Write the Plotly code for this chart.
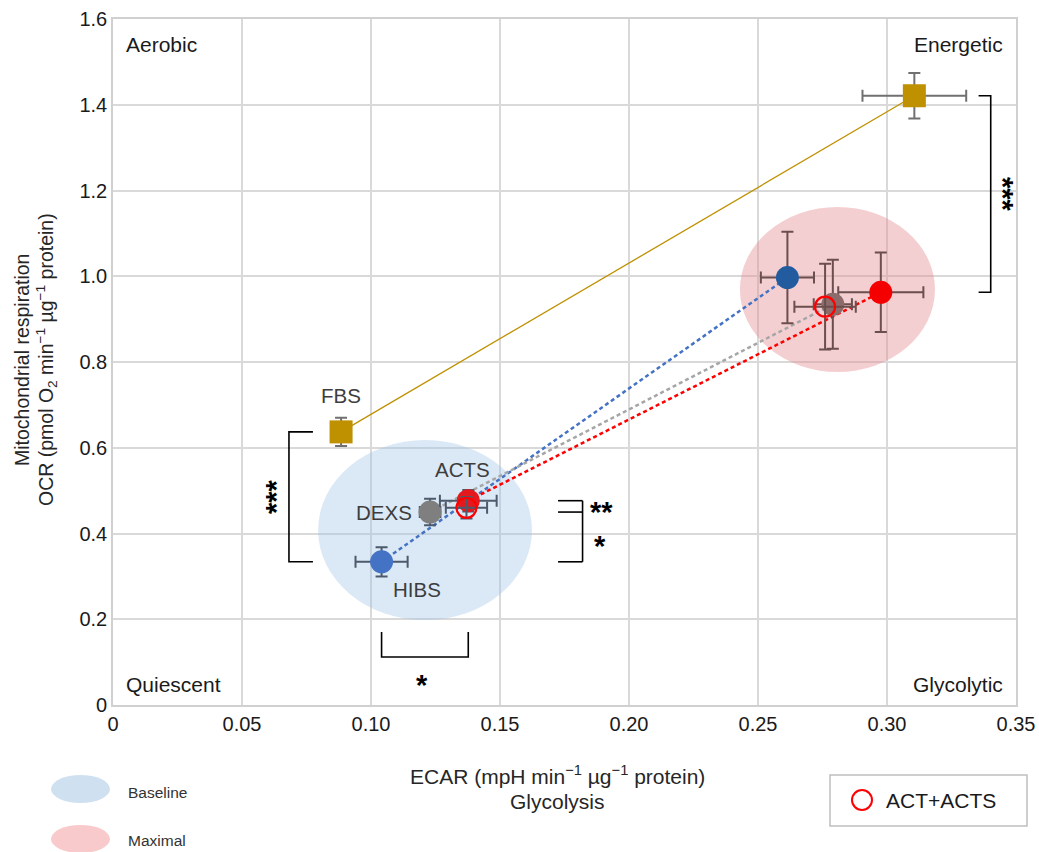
import plotly.graph_objects as go

# ---------------- data ----------------
groups = ["HIBS", "DEXS", "ACTS", "ACT+ACTS"]
base_ecar = [0.1041, 0.1229, 0.1377, 0.1370]
base_ecar_err = [0.0101, 0.0040, 0.0110, 0.0080]
base_ocr = [0.334, 0.450, 0.4765, 0.460]
base_ocr_err = [0.034, 0.031, 0.025, 0.025]

max_ecar = [0.2614, 0.2790, 0.2976, 0.2760]
max_ecar_err = [0.0103, 0.0074, 0.0165, 0.0119]
max_ocr = [0.997, 0.9346, 0.9626, 0.929]
max_ocr_err = [0.1066, 0.1038, 0.0926, 0.100]

fbs_ecar = [0.0884, 0.3106]
fbs_ecar_err = [0.0, 0.0201]
fbs_ocr = [0.637, 1.421]
fbs_ocr_err = [0.033, 0.053]

x_ticks = [0, 0.05, 0.10, 0.15, 0.20, 0.25, 0.30, 0.35]
x_ticktext = ["0", "0.05", "0.10", "0.15", "0.20", "0.25", "0.30", "0.35"]
y_ticks = [0, 0.2, 0.4, 0.6, 0.8, 1.0, 1.2, 1.4, 1.6]
y_ticktext = ["0", "0.2", "0.4", "0.6", "0.8", "1.0", "1.2", "1.4", "1.6"]

# ---------------- styling ----------------
FONT = "Liberation Sans, Arial, sans-serif"
W, H = 1039, 852
L, R, T, B = 113, 1016, 19, 705

def px(x):
    return (x - L) / (R - L)

def py(y):
    return (B - y) / (B - T)

base_colors = ["#4472C4", "#7F7F7F", "#E3191E"]
max_colors = ["#235C9E", "#8C6B6B", "#F40000"]
dash_colors = ["#4472C4", "#A6A6A6", "#FF0000"]
gold = "#BF9000"

fig = go.Figure()

# gold line FBS
fig.add_trace(go.Scatter(x=fbs_ecar, y=fbs_ocr, mode="lines",
                         line=dict(color=gold, width=1.3), hoverinfo="skip", showlegend=False))

# dashed connection lines
for i in range(3):
    fig.add_trace(go.Scatter(x=[base_ecar[i], max_ecar[i]], y=[base_ocr[i], max_ocr[i]],
                             mode="lines", line=dict(color=dash_colors[i], width=2.5, dash="4px,3px"),
                             hoverinfo="skip", showlegend=False))

# FBS squares
fig.add_trace(go.Scatter(
    x=fbs_ecar, y=fbs_ocr, mode="markers",
    marker=dict(symbol="square", size=23, color=gold),
    error_x=dict(type="data", array=fbs_ecar_err, color="#707070", thickness=2, width=6),
    error_y=dict(type="data", array=fbs_ocr_err, color="#707070", thickness=2, width=6),
    showlegend=False))

# baseline points
for i in [0, 1, 2]:
    fig.add_trace(go.Scatter(
        x=[base_ecar[i]], y=[base_ocr[i]], mode="markers",
        marker=dict(symbol="circle", size=23, color=base_colors[i]),
        error_x=dict(type="data", array=[base_ecar_err[i]], color="#4D5A6B", thickness=2, width=6),
        error_y=dict(type="data", array=[base_ocr_err[i]], color="#4D5A6B", thickness=2, width=6),
        showlegend=False))
fig.add_trace(go.Scatter(
    x=[base_ecar[3]], y=[base_ocr[3]], mode="markers",
    marker=dict(symbol="circle-open", size=20, color="#FF0000", line=dict(width=2.2, color="#FF0000")),
    error_x=dict(type="data", array=[base_ecar_err[3]], color="#4D5A6B", thickness=2, width=6),
    error_y=dict(type="data", array=[base_ocr_err[3]], color="#4D5A6B", thickness=2, width=6),
    showlegend=False))

# maximal points
for i in [0, 2, 1]:
    fig.add_trace(go.Scatter(
        x=[max_ecar[i]], y=[max_ocr[i]], mode="markers",
        marker=dict(symbol="circle", size=23, color=max_colors[i]),
        error_x=dict(type="data", array=[max_ecar_err[i]], color="#6B4E4E", thickness=2, width=6),
        error_y=dict(type="data", array=[max_ocr_err[i]], color="#6B4E4E", thickness=2, width=6),
        showlegend=False))
fig.add_trace(go.Scatter(
    x=[max_ecar[3]], y=[max_ocr[3]], mode="markers",
    marker=dict(symbol="circle-open", size=20, color="#FF0000", line=dict(width=2.2, color="#FF0000")),
    error_x=dict(type="data", array=[max_ecar_err[3]], color="#6B4E4E", thickness=2, width=6),
    error_y=dict(type="data", array=[max_ocr_err[3]], color="#6B4E4E", thickness=2, width=6),
    showlegend=False))

shapes = []
# ellipses (regions)
shapes.append(dict(type="circle", xref="x", yref="y", x0=0.0795, x1=0.1624, y0=0.198, y1=0.618,
                   fillcolor="rgba(160,196,232,0.38)", line=dict(width=0), layer="between"))
shapes.append(dict(type="circle", xref="x", yref="y", x0=0.2430, x1=0.3186, y0=0.7767, y1=1.1615,
                   fillcolor="rgba(228,140,145,0.42)", line=dict(width=0), layer="between"))

blk = dict(color="black", width=1.6)
# left bracket FBS vs HIBS
bx_v, bx_t = 0.0682, 0.0775
shapes.append(dict(type="path", xref="x", yref="y", line=blk,
                   path=f"M {bx_t},{fbs_ocr[0]} L {bx_v},{fbs_ocr[0]} L {bx_v},{base_ocr[0]} L {bx_t},{base_ocr[0]}"))
# bottom bracket HIBS vs ACTS (ECAR)
by_h, by_t = 0.112, 0.170
shapes.append(dict(type="path", xref="x", yref="y", line=blk,
                   path=f"M {base_ecar[0]},{by_t} L {base_ecar[0]},{by_h} L {base_ecar[2]},{by_h} L {base_ecar[2]},{by_t}"))
# right brackets baseline OCR
rx0, rx1 = 0.1725, 0.182
for yv in [base_ocr[2], base_ocr[1], base_ocr[0]]:
    shapes.append(dict(type="line", xref="x", yref="y", x0=rx0, x1=rx1, y0=yv, y1=yv, line=blk))
shapes.append(dict(type="line", xref="x", yref="y", x0=rx1, x1=rx1, y0=base_ocr[0], y1=base_ocr[2], line=blk))
# top-right bracket FBS max vs maximal
tx_t, tx_v = 0.3355, 0.3402
shapes.append(dict(type="path", xref="x", yref="y", line=blk,
                   path=f"M {tx_t},{fbs_ocr[1]} L {tx_v},{fbs_ocr[1]} L {tx_v},{max_ocr[2]} L {tx_t},{max_ocr[2]}"))

# legend items (bottom)
shapes.append(dict(type="circle", xref="paper", yref="paper", x0=px(51), x1=px(110), y0=py(803), y1=py(775),
                   fillcolor="#CFE1F1", line=dict(width=0)))
shapes.append(dict(type="circle", xref="paper", yref="paper", x0=px(51), x1=px(110), y0=py(853), y1=py(825),
                   fillcolor="#F9CACB", line=dict(width=0)))
shapes.append(dict(type="rect", xref="paper", yref="paper", x0=px(830), x1=px(1027), y0=py(826), y1=py(775),
                   line=dict(color="#BFBFBF", width=1.5), fillcolor="white"))
shapes.append(dict(type="circle", xref="paper", yref="paper", x0=px(852), x1=px(872), y0=py(810), y1=py(790),
                   line=dict(color="#FF0000", width=2)))

ann = []
def A(text, x, y, xref="paper", yref="paper", size=17, color="#1A1A1A", xanchor="center",
      yanchor="middle", angle=0, xshift=0, yshift=0, bold=False):
    ann.append(dict(text=(f"<b>{text}</b>" if bold else text), x=x, y=y, xref=xref, yref=yref,
                    showarrow=False,
                    font=dict(family=FONT, size=size, color=color), xanchor=xanchor,
                    yanchor=yanchor, textangle=angle, xshift=xshift, yshift=yshift))

# quadrant labels
A("Aerobic", px(124), py(45), xanchor="left", size=21)
A("Energetic", px(1005), py(45), xanchor="right", size=21)
A("Quiescent", px(124), py(684), xanchor="left", size=21)
A("Glycolytic", px(1005), py(684), xanchor="right", size=21)

# point labels
lab = "#3D3D3D"
A("FBS", fbs_ecar[0], fbs_ocr[0], "x", "y", color=lab, yshift=36, size=20.5)
A("ACTS", base_ecar[2], base_ocr[2], "x", "y", color=lab, xshift=-6, yshift=31, size=20.5)
A("DEXS", base_ecar[1], base_ocr[1], "x", "y", color=lab, xanchor="right", xshift=-16, size=20.5)
A("HIBS", base_ecar[0], base_ocr[0], "x", "y", color=lab, xshift=35, yshift=-28, size=20.5)

# significance stars
A("***", px(276), py(497), size=29, color="black", angle=-90, bold=True)
A("*", px(422), py(685), size=29, color="black", bold=True)
A("**", px(601), py(512), size=29, color="black", bold=True)
A("*", px(600), py(546), size=29, color="black", bold=True)
A("***", px(1003), py(194), size=29, color="black", angle=90, bold=True)

# axis titles
A("ECAR (mpH min<sup>\u22121</sup> \u00b5g<sup>\u22121</sup> protein)", px(557), py(775), size=21, color="#262626")
A("Glycolysis", px(557), py(802), size=21, color="#262626")
A("Mitochondrial respiration", px(22), py(360), size=19.5, color="#262626", angle=-90)
A("OCR (pmol O<sub>2</sub> min<sup>\u22121</sup> \u00b5g<sup>\u22121</sup> protein)", px(46), py(360),
  size=19.5, color="#262626", angle=-90)

# legend labels
A("Baseline", px(126), py(792), size=15.5, color="#333333", xanchor="left")
A("Maximal", px(126), py(840), size=15.5, color="#333333", xanchor="left")
A("ACT+ACTS", px(884), py(800), size=21, color="#1A1A1A", xanchor="left")

fig.update_layout(
    width=W, height=H,
    margin=dict(l=L, r=W - R, t=T, b=H - B, autoexpand=False),
    paper_bgcolor="white", plot_bgcolor="white",
    font=dict(family=FONT, size=20, color="#1A1A1A"),
    shapes=shapes, annotations=ann,
    xaxis=dict(range=[0, 0.35], tickvals=x_ticks, ticktext=x_ticktext, showgrid=True, automargin=False,
               gridcolor="#D9D9D9", gridwidth=1.6, zeroline=False, showline=True, mirror=True,
               linecolor="#D0D0D0", linewidth=1.6, ticks="", tickfont=dict(size=20, color="#1A1A1A")),
    yaxis=dict(range=[0, 1.6], tickvals=y_ticks, ticktext=y_ticktext, showgrid=True, automargin=False,
               gridcolor="#D9D9D9", gridwidth=1.6, zeroline=False, showline=True, mirror=True,
               linecolor="#D0D0D0", linewidth=1.6, ticks="", tickfont=dict(size=20, color="#1A1A1A")),
    showlegend=False,
)

fig.write_html("out.html")
